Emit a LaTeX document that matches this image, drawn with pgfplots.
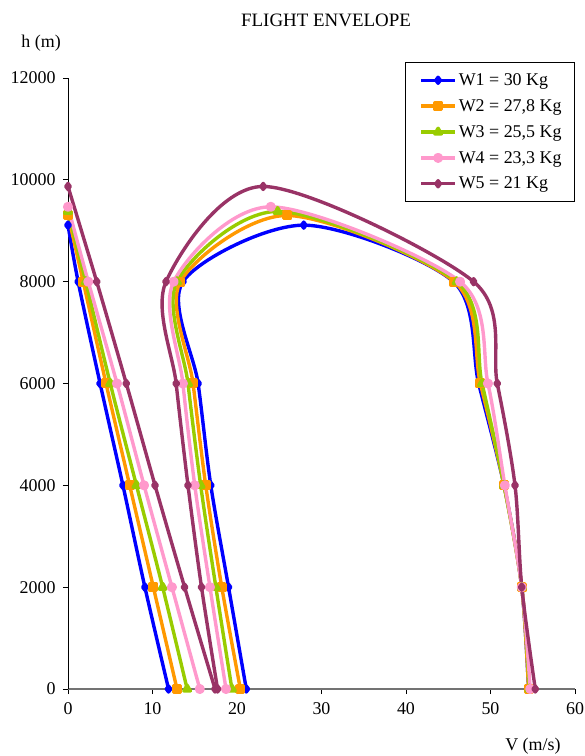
\documentclass[border=0pt]{standalone}
\usepackage{pgfplots}
\pgfplotsset{compat=1.18}
\usepackage{fontspec}
\setmainfont{Liberation Serif}
\definecolor{wA}{RGB}{0,0,255}
\definecolor{wB}{RGB}{255,153,0}
\definecolor{wC}{RGB}{153,204,0}
\definecolor{wD}{RGB}{255,153,204}
\definecolor{wE}{RGB}{153,51,102}
\begin{document}
\begin{tikzpicture}
\useasboundingbox (-68bp,-67bp) rectangle (517bp,689bp);
\begin{axis}[
  scale only axis, width=507bp, height=611bp,
  xmin=0, xmax=60, ymin=0, ymax=12000,
  xtick={0,10,...,60}, ytick={0,2000,...,12000},
  scaled y ticks=false, scaled x ticks=false,
  axis x line=bottom, axis y line=left,
  axis line style={-},
  x axis line style={draw=black!55, line width=1.4bp},
  y axis line style={draw=black, line width=0.9bp},
  tick align=outside, major tick length=5bp,
  tick style={black, line width=0.9bp},
  minor tick num=0,
  /pgf/number format/assume math mode=true,
  /pgf/number format/1000 sep={},
  ticklabel style={font=\fontsize{18}{22}\selectfont},
  xticklabel style={yshift=-5bp},
  yticklabel style={xshift=-4bp},
  clip=false,
  every axis plot/.append style={smooth, tension=0.5, line width=3.4bp, line join=round},
  legend style={at={(1,1.026)}, anchor=north east, draw=black, line width=0.9bp,
     font=\fontsize{18}{22}\selectfont, row sep=8.5bp, inner xsep=11bp, inner ysep=9bp,
     cells={anchor=west}},
  legend image code/.code={\path (0bp,0bp); \draw[#1, sharp plot, mark repeat=2, mark phase=2] plot coordinates {(3bp,0bp) (20bp,0bp) (37bp,0bp)};},
  legend cell align=left,
]
% W1
\addplot[color=wA, mark=diamond*, mark size=3bp] coordinates {(21.1,0) (19.0,2000) (16.9,4000) (15.4,6000) (13.6,8000) (27.9,9110) (45.6,8000) (48.6,6000) (51.6,4000) (53.7,2000) (54.5,0)};
\addlegendentry{W1 = 30 Kg}
\addplot[color=wA, mark=diamond*, mark size=3bp, forget plot] coordinates {(11.9,0) (9.1,2000) (6.5,4000) (3.8,6000) (1.2,8000) (0,9110)};
% W2
\addplot[color=wB, mark=square*, mark size=3.3bp] coordinates {(20.4,0) (18.2,2000) (16.3,4000) (14.8,6000) (13.3,8000) (25.9,9300) (45.7,8000) (48.8,6000) (51.6,4000) (53.7,2000) (54.5,0)};
\addlegendentry{W2 = 27,8 Kg}
\addplot[color=wB, mark=square*, mark size=3.3bp, forget plot] coordinates {(12.9,0) (10.1,2000) (7.3,4000) (4.5,6000) (1.8,8000) (0,9310)};
% W3
\addplot[color=wC, mark=triangle*, mark size=3.8bp] coordinates {(19.4,0) (17.5,2000) (15.7,4000) (14.2,6000) (12.9,8000) (24.8,9380) (46.0,8000) (49.0,6000) (51.6,4000) (53.7,2000) (54.6,0)};
\addlegendentry{W3 = 25,5 Kg}
\addplot[color=wC, mark=triangle*, mark size=3.8bp, forget plot] coordinates {(14.1,0) (11.2,2000) (8.1,4000) (5.0,6000) (2.1,8000) (0,9380)};
% W4
\addplot[color=wD, mark=*, mark size=3.3bp] coordinates {(18.7,0) (16.8,2000) (15.0,4000) (13.6,6000) (12.5,8000) (24.0,9470) (46.4,8000) (49.7,6000) (51.7,4000) (53.7,2000) (54.7,0)};
\addlegendentry{W4 = 23,3 Kg}
\addplot[color=wD, mark=*, mark size=3.3bp, forget plot] coordinates {(15.6,0) (12.3,2000) (9.0,4000) (5.8,6000) (2.4,8000) (0,9470)};
% W5
\addplot[color=wE, mark=diamond*, mark size=3bp] coordinates {(17.7,0) (15.8,2000) (14.2,4000) (12.8,6000) (11.6,8000) (23.1,9870) (48.0,8000) (50.8,6000) (52.9,4000) (53.7,2000) (55.3,0)};
\addlegendentry{W5 = 21 Kg}
\addplot[color=wE, mark=diamond*, mark size=3bp, forget plot] coordinates {(17.4,0) (13.8,2000) (10.3,4000) (6.9,6000) (3.4,8000) (0,9870)};
\node[font=\fontsize{19}{23}\selectfont] at (rel axis cs:0.509,1.095) {FLIGHT ENVELOPE};
\node[font=\fontsize{18}{22}\selectfont] at (rel axis cs:-0.053,1.057) {h (m)};
\node[font=\fontsize{18}{22}\selectfont] at (rel axis cs:0.917,-0.093) {V (m/s)};
\end{axis}
\end{tikzpicture}
\end{document}
